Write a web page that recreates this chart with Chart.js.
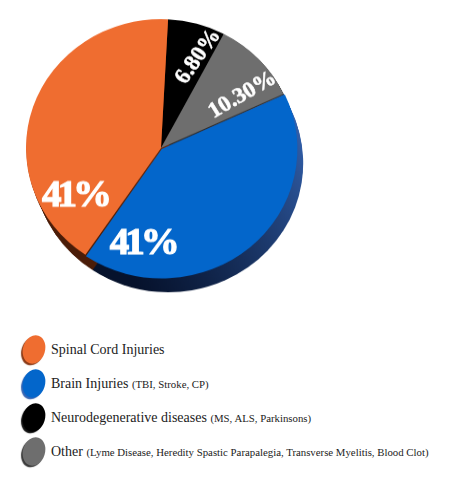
<!DOCTYPE html>
<html lang="en">

<head>
    <meta charset="UTF-8">
    <title>Patient Conditions</title>
    <script src="https://cdn.jsdelivr.net/npm/chart.js"></script>
    <style>
        body { margin: 0; background: #fff; }
        #pieBox { position: absolute; left: 0; top: 0; width: 330px; height: 330px; transform: scaleY(0.955); transform-origin: 0 0; }
        #legend { position: absolute; left: 23px; top: 333px; font-family: "Liberation Serif", serif; color: #222; }
        .row { height: 34px; line-height: 34px; white-space: nowrap; position: relative; padding-left: 28px; font-size: 14px; }
        .dot { position: absolute; left: 0; top: 2px; width: 22px; height: 29px; border-radius: 50%; transform: rotate(18deg); }
        .note { font-size: 10.8px; }
    </style>
</head>

<body>
    <div id="pieBox"><canvas id="pieChart"></canvas></div>
    <div id="legend"></div>

    <script>
        // legend order
        const categories = ['Spinal Cord Injuries', 'Brain Injuries', 'Neurodegenerative diseases', 'Other'];
        const notes = ['', '(TBI, Stroke, CP)', '(MS, ALS, Parkinsons)',
            '(Lyme Disease, Heredity Spastic Parapalegia, Transverse Myelitis, Blood Clot)'];
        const shares = [41, 41, 6.8, 10.3];
        const shareLabels = ['41%', '41%', '6.80%', '10.30%'];
        const colors = ['#ef6d30', '#0366cb', '#000000', '#6e6e6e'];
        const sideColors = [['#8a3a16', '#4a1c08'], ['#3565b4', '#06122c'], ['#111111', '#000000'], ['#3a3a3a', '#1a1a1a']];

        // clockwise order of slices starting near the top
        const sliceOrder = [2, 3, 1, 0];
        const labelAlong = [0.17, 0.84, 0.74, 0.75];
        const labelDist = [0.74, 0.76, 0.76, 0.73];
        const labelTurn = [0, 0, -56, -31];
        const labelSize = [39, 39, 23, 23];
        const labelSpacing = [-4, -4, 0, 0];

        const depthPlugin = {
            id: 'depth',
            beforeDatasetsDraw(chart) {
                const ctx = chart.ctx;
                const arcs = chart.getDatasetMeta(0).data;
                arcs.forEach((arc, j) => {
                    const i = sliceOrder[j];
                    const p = arc.getProps(['x', 'y', 'startAngle', 'endAngle', 'outerRadius'], true);
                    const g = ctx.createLinearGradient(p.x + p.outerRadius, p.y - p.outerRadius * 0.4, p.x - p.outerRadius * 0.2, p.y + p.outerRadius);
                    g.addColorStop(0, sideColors[i][0]);
                    g.addColorStop(1, sideColors[i][1]);
                    for (let k = 16; k > 0; k--) {
                        ctx.save();
                        ctx.translate(k * 0.45, k);
                        ctx.beginPath();
                        ctx.moveTo(p.x, p.y);
                        ctx.arc(p.x, p.y, p.outerRadius, p.startAngle, p.endAngle);
                        ctx.closePath();
                        ctx.fillStyle = g;
                        ctx.fill();
                        ctx.restore();
                    }
                });
            }
        };

        const labelPlugin = {
            id: 'sliceLabels',
            afterDatasetsDraw(chart) {
                const ctx = chart.ctx;
                const arcs = chart.getDatasetMeta(0).data;
                arcs.forEach((arc, j) => {
                    const i = sliceOrder[j];
                    const p = arc.getProps(['x', 'y', 'startAngle', 'endAngle', 'outerRadius'], true);
                    const a = p.startAngle + (p.endAngle - p.startAngle) * labelAlong[i];
                    const r = p.outerRadius * labelDist[i];
                    ctx.save();
                    ctx.translate(p.x + Math.cos(a) * r, p.y + Math.sin(a) * r);
                    ctx.rotate(labelTurn[i] * Math.PI / 180);
                    ctx.font = 'bold ' + labelSize[i] + 'px "Liberation Serif", serif';
                    ctx.letterSpacing = labelSpacing[i] + 'px';
                    ctx.fillStyle = '#ffffff';
                    ctx.strokeStyle = '#ffffff';
                    ctx.lineWidth = labelSize[i] > 30 ? 1.2 : 0.6;
                    ctx.textAlign = 'center';
                    ctx.textBaseline = 'middle';
                    ctx.fillText(shareLabels[i], 0, 0);
                    ctx.strokeText(shareLabels[i], 0, 0);
                    ctx.restore();
                });
            }
        };

        const ctx = document.getElementById('pieChart').getContext('2d');
        const pieChart = new Chart(ctx, {
            type: 'pie',
            data: {
                labels: sliceOrder.map(i => categories[i]),
                datasets: [{
                    data: sliceOrder.map(i => shares[i]),
                    backgroundColor: sliceOrder.map(i => colors[i]),
                    borderWidth: 0,
                    offset: sliceOrder.map(i => i === 1 ? 5 : 0)
                }]
            },
            options: {
                responsive: true,
                maintainAspectRatio: false,
                animation: false,
                rotation: 3,
                radius: 135,
                layout: { padding: { left: 0, right: 8, top: 0, bottom: 20 } },
                plugins: {
                    legend: { display: false },
                    tooltip: { enabled: false }
                }
            },
            plugins: [depthPlugin, labelPlugin]
        });

        const legend = document.getElementById('legend');
        categories.forEach((name, i) => {
            const row = document.createElement('div');
            row.className = 'row';
            const dot = document.createElement('span');
            dot.className = 'dot';
            dot.style.background = colors[i];
            dot.style.boxShadow = '-1px 2px 1px ' + sideColors[i][0];
            row.appendChild(dot);
            row.appendChild(document.createTextNode(name + ' '));
            if (notes[i]) {
                const note = document.createElement('span');
                note.className = 'note';
                note.textContent = notes[i];
                row.appendChild(note);
            }
            legend.appendChild(row);
        });
    </script>
</body>

</html>
